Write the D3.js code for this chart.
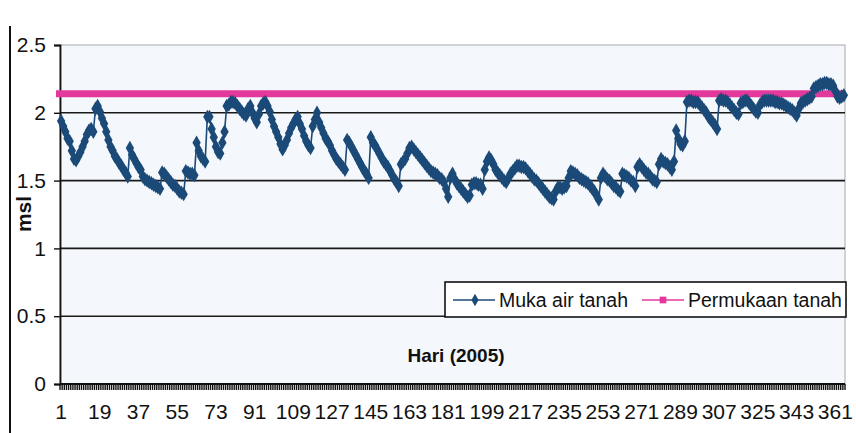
<!DOCTYPE html>
<html lang="id">
<head>
<meta charset="UTF-8">
<title>Muka air tanah 2005</title>
<script src="https://d3js.org/d3.v7.min.js"></script>
<style>
    body, html { margin: 0; padding: 0; background: #fff; }
    svg { display: block; font-family: Arial, "Liberation Sans", sans-serif; }
</style>
</head>
<body>
<div id="chart"></div>
<script>
// groundwater level (msl), one value per day of 2005
const mukaAirTanah = [
    1.94, 1.90, 1.86, 1.81, 1.79, 1.72, 1.66, 1.65, 1.68, 1.71,
    1.75, 1.79, 1.84, 1.87, 1.88, 1.86, 2.03, 2.05, 2.01, 1.96,
    1.92, 1.86, 1.80, 1.75, 1.72, 1.68, 1.66, 1.63, 1.61, 1.58,
    1.56, 1.53, 1.74, 1.69, 1.66, 1.63, 1.60, 1.58, 1.53, 1.51,
    1.50, 1.49, 1.48, 1.47, 1.46, 1.45, 1.44, 1.56, 1.55, 1.53,
    1.51, 1.49, 1.47, 1.46, 1.44, 1.42, 1.41, 1.40, 1.57, 1.56,
    1.55, 1.55, 1.54, 1.78, 1.72, 1.68, 1.66, 1.64, 1.97, 1.97,
    1.88, 1.82, 1.75, 1.71, 1.70, 1.78, 1.86, 2.05, 2.06, 2.08,
    2.08, 2.07, 2.05, 2.03, 2.01, 1.99, 1.98, 2.03, 2.05, 2.00,
    1.96, 1.93, 1.99, 2.05, 2.07, 2.08, 2.05, 2.01, 1.95, 1.90,
    1.86, 1.82, 1.77, 1.73, 1.76, 1.80, 1.85, 1.89, 1.92, 1.95,
    1.97, 1.92, 1.88, 1.83, 1.79, 1.76, 1.74, 1.90, 1.95, 2.00,
    1.93, 1.89, 1.85, 1.81, 1.79, 1.76, 1.72, 1.69, 1.66, 1.64,
    1.62, 1.60, 1.58, 1.80, 1.78, 1.75, 1.72, 1.69, 1.66, 1.63,
    1.60, 1.57, 1.55, 1.52, 1.82, 1.78, 1.76, 1.73, 1.70, 1.67,
    1.64, 1.62, 1.60, 1.57, 1.54, 1.51, 1.49, 1.46, 1.62, 1.64,
    1.66, 1.70, 1.74, 1.75, 1.73, 1.71, 1.69, 1.67, 1.65, 1.63,
    1.61, 1.59, 1.57, 1.56, 1.55, 1.54, 1.52, 1.51, 1.49, 1.44,
    1.38, 1.52, 1.55, 1.51, 1.48, 1.46, 1.44, 1.42, 1.40, 1.38,
    1.39, 1.47, 1.48, 1.48, 1.47, 1.47, 1.44, 1.58, 1.64, 1.67,
    1.65, 1.62, 1.58, 1.56, 1.54, 1.52, 1.50, 1.49, 1.52, 1.55,
    1.57, 1.59, 1.61, 1.61, 1.60, 1.60, 1.59, 1.57, 1.55, 1.53,
    1.51, 1.50, 1.48, 1.46, 1.44, 1.42, 1.40, 1.38, 1.37, 1.36,
    1.42, 1.45, 1.45, 1.44, 1.45, 1.46, 1.52, 1.57, 1.56, 1.55,
    1.54, 1.52, 1.51, 1.50, 1.49, 1.48, 1.46, 1.44, 1.42, 1.39,
    1.36, 1.52, 1.55, 1.53, 1.51, 1.50, 1.48, 1.46, 1.45, 1.43,
    1.42, 1.55, 1.54, 1.53, 1.52, 1.50, 1.49, 1.46, 1.60, 1.62,
    1.60, 1.58, 1.56, 1.55, 1.53, 1.51, 1.50, 1.49, 1.62, 1.66,
    1.64, 1.63, 1.62, 1.60, 1.58, 1.64, 1.87, 1.81, 1.77, 1.76,
    1.79, 2.08, 2.09, 2.09, 2.08, 2.08, 2.08, 2.06, 2.04, 2.02,
    2.00, 1.97, 1.95, 1.93, 1.91, 1.88, 2.09, 2.10, 2.09, 2.09,
    2.08, 2.06, 2.04, 2.02, 2.00, 1.99, 2.07, 2.08, 2.09, 2.09,
    2.07, 2.05, 2.03, 2.01, 2.00, 2.06, 2.08, 2.09, 2.09, 2.09,
    2.09, 2.09, 2.08, 2.08, 2.07, 2.07, 2.06, 2.05, 2.04, 2.03,
    2.02, 2.00, 1.98, 2.03, 2.07, 2.08, 2.09, 2.10, 2.11, 2.12,
    2.18, 2.19, 2.20, 2.21, 2.21, 2.22, 2.22, 2.21, 2.21, 2.20,
    2.16, 2.12, 2.11, 2.12, 2.13
];
// ground surface level (msl), constant over the year
const permukaanTanah = 2.14;
const days = mukaAirTanah.map((v, i) => i + 1);
const xTickLabels = [1, 19, 37, 55, 73, 91, 109, 127, 145, 163, 181, 199, 217, 235, 253, 271, 289, 307, 325, 343, 361];
const yTicks = [0, 0.5, 1, 1.5, 2, 2.5];
const legendLabels = ["Muka air tanah", "Permukaan tanah"];

const W = 856, H = 433;
const pLeft = 60, pRight = 845, pTop = 45, pBottom = 384;
const blue = "#1b4a78", pink = "#e4399c";

const svg = d3.select("#chart").append("svg")
    .attr("width", W).attr("height", H);

// outer chart frame (left edge visible in the scan)
svg.append("line")
    .attr("x1", 10).attr("x2", 10).attr("y1", 26).attr("y2", H)
    .attr("stroke", "#111").attr("stroke-width", 2);

const x = d3.scaleBand().domain(days).range([pLeft, pRight]).padding(0);
const y = d3.scaleLinear().domain([0, 2.5]).range([pBottom, pTop]);
const cx = d => x(d) + x.bandwidth() / 2;

// plot area
svg.append("rect")
    .attr("x", pLeft).attr("y", pTop)
    .attr("width", pRight - pLeft).attr("height", pBottom - pTop)
    .attr("fill", "#f4f7fb").attr("stroke", "#aaa").attr("stroke-width", 1);

// gridlines
svg.append("g").selectAll("line")
    .data(yTicks.filter(t => t > 0 && t < 2.5))
    .enter().append("line")
    .attr("x1", pLeft).attr("x2", pRight)
    .attr("y1", d => y(d)).attr("y2", d => y(d))
    .attr("stroke", "#1a1a1a").attr("stroke-width", 1.6);

// y axis
const yAxis = svg.append("g")
    .attr("transform", `translate(${pLeft},0)`)
    .call(d3.axisLeft(y).tickValues(yTicks).tickSize(6).tickPadding(8).tickFormat(d3.format("")));
yAxis.select(".domain").attr("stroke", "#111").attr("stroke-width", 1.8);
yAxis.selectAll(".tick line").attr("stroke", "#111").attr("stroke-width", 1.4);
yAxis.selectAll("text").attr("font-size", 21).attr("fill", "#111")
    .attr("font-family", "Arial, 'Liberation Sans', sans-serif");

// x axis: a tick at every day boundary, labels every 18 days
const xg = svg.append("g").attr("transform", `translate(0,${pBottom})`);
xg.selectAll("line.tk").data(days.concat([days.length + 1]))
    .enter().append("line").attr("class", "tk")
    .attr("x1", d => d <= days.length ? x(d) : pRight)
    .attr("x2", d => d <= days.length ? x(d) : pRight)
    .attr("y1", 0).attr("y2", 6)
    .attr("stroke", "#111").attr("stroke-width", 1.4);
xg.append("line").attr("x1", pLeft).attr("x2", pRight)
    .attr("stroke", "#111").attr("stroke-width", 2.2);
xg.selectAll("text").data(xTickLabels)
    .enter().append("text")
    .attr("x", d => cx(d)).attr("y", 35)
    .attr("text-anchor", "middle")
    .attr("font-size", 21).attr("fill", "#111")
    .text(d => d);

// axis titles
svg.append("text")
    .attr("transform", "translate(31,214) rotate(-90)")
    .attr("text-anchor", "middle")
    .attr("font-size", 21).attr("font-weight", "bold").attr("fill", "#111")
    .text("msl");
svg.append("text")
    .attr("x", 456).attr("y", 362)
    .attr("text-anchor", "middle")
    .attr("font-size", 19).attr("font-weight", "bold").attr("fill", "#111")
    .text("Hari (2005)");

// ground surface
svg.append("line")
    .attr("x1", pLeft - 4).attr("x2", pRight)
    .attr("y1", y(permukaanTanah)).attr("y2", y(permukaanTanah))
    .attr("stroke", pink).attr("stroke-width", 7);

// groundwater series
const line = d3.line().x((d, i) => cx(days[i])).y(d => y(d));
svg.append("path")
    .datum(mukaAirTanah)
    .attr("d", line)
    .attr("fill", "none").attr("stroke", blue).attr("stroke-width", 1.6);
svg.append("g").selectAll("path")
    .data(mukaAirTanah)
    .enter().append("path")
    .attr("transform", (d, i) => `translate(${cx(days[i])},${y(d)})`)
    .attr("d", d3.symbol().type(d3.symbolDiamond).size(60))
    .attr("fill", blue);

// legend
const lg = svg.append("g").attr("transform", "translate(445,282)");
lg.append("rect").attr("width", 401).attr("height", 35)
    .attr("fill", "#fff").attr("stroke", "#111").attr("stroke-width", 1.6);
lg.append("line").attr("x1", 8).attr("x2", 50).attr("y1", 18).attr("y2", 18)
    .attr("stroke", blue).attr("stroke-width", 1.5);
lg.append("path").attr("transform", "translate(30,18)")
    .attr("d", d3.symbol().type(d3.symbolDiamond).size(45)).attr("fill", blue);
lg.append("text").attr("x", 54).attr("y", 25).attr("font-size", 19.5).attr("fill", "#111")
    .text(legendLabels[0]);
lg.append("line").attr("x1", 197).attr("x2", 239).attr("y1", 18).attr("y2", 18)
    .attr("stroke", pink).attr("stroke-width", 1.5);
lg.append("path").attr("transform", "translate(218,18)")
    .attr("d", d3.symbol().type(d3.symbolSquare).size(45)).attr("fill", pink);
lg.append("text").attr("x", 243).attr("y", 25).attr("font-size", 19.5).attr("fill", "#111")
    .text(legendLabels[1]);
</script>
</body>
</html>
